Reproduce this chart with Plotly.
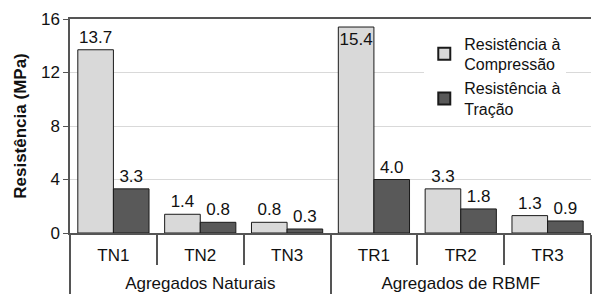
import plotly.graph_objects as go

groups = ["Agregados Naturais"] * 3 + ["Agregados de RBMF"] * 3
samples = ["TN1", "TN2", "TN3", "TR1", "TR2", "TR3"]
compressao = [13.7, 1.4, 0.8, 15.4, 3.3, 1.3]
tracao = [3.3, 0.8, 0.3, 4.0, 1.8, 0.9]
y_ticks = [0, 4, 8, 12, 16]

font = "Liberation Sans, Arial, sans-serif"
fs = 17

# a tall invisible spacer around each sample label gives the group row more room
pad = "<span style='font-size:29px'>\u00a0</span>"
sample_labels = [pad + s + pad for s in samples]

comp_pos = ["inside" if v > 15 else "outside" for v in compressao]

fig = go.Figure()
fig.add_trace(go.Bar(
    x=[groups, sample_labels], y=compressao, name="Resistência à<br>Compressão",
    marker=dict(color="#d9d9d9", line=dict(color="#1a1a1a", width=1)),
    text=[f"{v:.1f}" for v in compressao], textposition=comp_pos,
    insidetextanchor="end", textangle=0, constraintext="none",
    textfont=dict(color="#111", size=fs, family=font),
    insidetextfont=dict(color="#111", size=fs, family=font),
    outsidetextfont=dict(color="#111", size=fs, family=font),
    cliponaxis=False,
))
fig.add_trace(go.Bar(
    x=[groups, sample_labels], y=tracao, name="Resistência à<br>Tração",
    marker=dict(color="#595959", line=dict(color="#1a1a1a", width=1)),
    text=[f"{v:.1f}" for v in tracao], textposition="outside", textangle=0,
    constraintext="none",
    textfont=dict(color="#111", size=fs, family=font),
    cliponaxis=False,
))

fig.update_layout(
    width=593, height=294,
    margin=dict(l=70, r=2, t=19, b=61, autoexpand=False),
    paper_bgcolor="white", plot_bgcolor="white",
    font=dict(family=font, size=fs, color="#111"),
    barmode="group", bargap=0.18, bargroupgap=0,
    showlegend=True,
    legend=dict(x=0.68, y=0.965, xanchor="left", yanchor="top",
                bgcolor="white", font=dict(size=16, family=font),
                itemsizing="constant", tracegroupgap=0, itemwidth=30),
    xaxis=dict(type="multicategory", automargin=False, range=[-0.5, 5.5],
               showline=True, linecolor="#555", linewidth=1.5,
               mirror=True, showdividers=True, dividercolor="#555", dividerwidth=1.5,
               ticks="outside", ticklen=30, tickcolor="#555", tickwidth=1.5,
               ticklabelstandoff=6,
               tickfont=dict(size=fs, family=font, color="#111")),
    yaxis=dict(range=[0, 16], tickvals=y_ticks, automargin=False,
               showline=True, linecolor="#555", linewidth=1.5,
               ticks="outside", ticklen=5, tickcolor="#555",
               showgrid=True, gridcolor="#d9d9d9", gridwidth=1,
               zeroline=False,
               tickfont=dict(size=fs, family=font, color="#111"),
               title=dict(text="<b>Resistência (MPa)</b>", font=dict(size=fs, family=font, color="#111"),
                          standoff=10)),
)

fig.write_html("out.html", config={"displayModeBar": False},
               post_script="document.body.style.margin='0';")
